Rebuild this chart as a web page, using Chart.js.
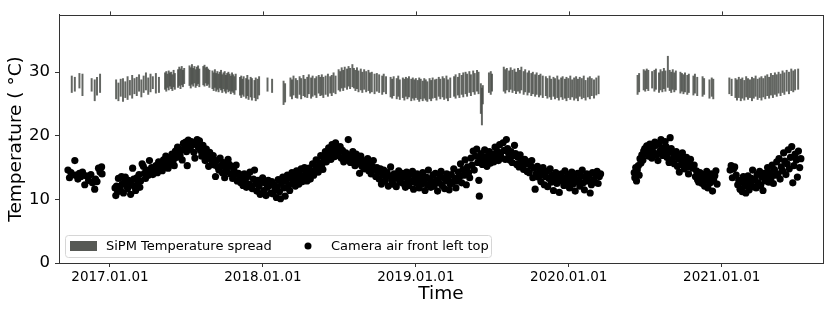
<!DOCTYPE html>
<html>
<head>
<meta charset="utf-8">
<script src="https://cdn.jsdelivr.net/npm/chart.js@4/dist/chart.umd.min.js"></script>
<style>
  html, body { margin: 0; padding: 0; background: #fff; }
  #wrap { width: 830px; height: 311px; }
</style>
</head>
<body>
<div id="wrap"><canvas id="grafico"></canvas></div>
<script>
// x values are decimal years, y values in degrees C
const yearTicks = [2017, 2018, 2019, 2020, 2021];
const yearLabels = ['2017.01.01', '2018.01.01', '2019.01.01', '2020.01.01', '2021.01.01'];
const tempTicks = [0, 10, 20, 30];

// SiPM temperature spread: [time, min, max]
const spread = [
  [2016.75, 26.8, 29.4], [2016.77, 27.0, 29.2], [2016.80, 27.5, 29.8], [2016.82, 26.3, 29.7],
  [2016.88, 27.0, 29.0], [2016.90, 25.5, 28.8], [2016.915, 26.4, 29.2], [2016.935, 26.8, 29.7],
  [2017.04, 25.8, 28.8], [2017.055, 25.5, 28.3], [2017.07, 26.2, 28.9], [2017.085, 25.4, 29.0],
  [2017.10, 26.0, 28.5], [2017.115, 25.7, 29.3], [2017.13, 26.4, 28.7], [2017.145, 25.9, 29.5],
  [2017.16, 26.6, 29.0], [2017.175, 26.3, 29.2], [2017.19, 27.0, 29.6], [2017.205, 26.1, 28.8],
  [2017.22, 26.8, 29.4], [2017.235, 27.2, 29.9], [2017.25, 26.5, 29.1], [2017.265, 26.9, 29.7],
  [2017.28, 27.4, 29.3], [2017.30, 26.7, 29.8], [2017.32, 26.8, 29.2],
  [2017.36, 27.3, 29.9], [2017.368, 27.0, 30.1], [2017.376, 27.6, 29.7], [2017.384, 27.2, 30.2],
  [2017.392, 27.8, 29.9], [2017.40, 27.4, 30.0], [2017.408, 27.1, 29.6], [2017.416, 27.7, 30.3],
  [2017.424, 27.3, 29.8],
  [2017.445, 27.6, 30.4], [2017.453, 27.9, 30.8], [2017.461, 27.4, 30.5], [2017.469, 28.0, 30.9],
  [2017.477, 27.7, 30.3], [2017.485, 28.2, 30.6],
  [2017.52, 27.9, 31.0], [2017.528, 27.5, 30.7], [2017.536, 28.1, 31.2], [2017.544, 27.8, 30.6],
  [2017.552, 28.3, 30.9], [2017.56, 27.6, 30.4], [2017.568, 27.9, 30.8], [2017.576, 28.2, 31.0],
  [2017.584, 27.7, 30.5],
  [2017.61, 28.0, 30.9], [2017.618, 27.8, 31.1], [2017.626, 28.3, 30.7], [2017.634, 27.9, 30.8],
  [2017.642, 28.1, 30.5], [2017.65, 27.6, 30.3],
  [2017.67, 27.4, 30.2], [2017.678, 27.1, 29.9], [2017.686, 27.6, 30.4], [2017.694, 27.0, 29.8],
  [2017.702, 27.3, 30.1], [2017.71, 26.9, 29.7], [2017.718, 27.5, 30.0], [2017.726, 27.2, 30.3],
  [2017.734, 26.8, 29.6], [2017.742, 27.4, 29.9], [2017.75, 27.0, 30.1], [2017.758, 26.7, 29.5],
  [2017.766, 27.3, 29.8], [2017.774, 26.9, 30.0], [2017.782, 27.1, 29.7], [2017.79, 26.6, 29.4],
  [2017.798, 27.0, 29.9], [2017.806, 26.8, 29.6], [2017.814, 26.5, 29.3], [2017.822, 27.2, 29.7],
  [2017.85, 26.4, 29.2], [2017.858, 26.0, 29.4], [2017.866, 26.5, 28.9], [2017.874, 26.2, 29.3],
  [2017.89, 25.9, 29.0], [2017.898, 26.3, 29.5], [2017.906, 25.7, 28.8], [2017.92, 26.1, 29.2],
  [2017.928, 25.6, 29.0], [2017.945, 26.0, 28.7], [2017.953, 25.5, 29.1], [2017.965, 25.8, 28.9],
  [2017.975, 26.4, 29.3],
  [2018.03, 27.0, 29.1], [2018.06, 26.8, 28.9], [2018.135, 24.9, 28.6], [2018.145, 25.3, 28.2],
  [2018.18, 26.2, 29.1], [2018.19, 25.8, 28.8], [2018.20, 26.4, 29.4], [2018.215, 26.0, 29.0],
  [2018.225, 25.9, 28.7], [2018.24, 26.5, 29.3], [2018.25, 25.8, 29.0], [2018.265, 26.3, 29.5],
  [2018.275, 26.1, 28.9], [2018.29, 26.0, 29.2], [2018.30, 26.6, 29.6], [2018.315, 25.9, 29.1],
  [2018.325, 26.2, 29.4], [2018.34, 26.4, 29.0], [2018.35, 26.0, 29.3], [2018.365, 26.7, 29.5],
  [2018.375, 26.3, 29.2], [2018.385, 26.4, 29.6], [2018.395, 26.0, 29.2], [2018.41, 26.5, 29.4],
  [2018.425, 26.2, 29.7], [2018.44, 26.7, 29.3], [2018.45, 26.3, 29.5], [2018.462, 26.8, 29.9],
  [2018.475, 26.6, 29.4],
  [2018.495, 27.2, 30.4], [2018.505, 27.0, 30.1], [2018.515, 27.5, 30.7], [2018.525, 27.1, 30.3],
  [2018.535, 27.6, 30.8], [2018.55, 27.3, 30.5], [2018.56, 27.8, 30.9], [2018.57, 27.4, 30.6],
  [2018.585, 27.7, 31.2], [2018.595, 27.5, 30.6], [2018.605, 27.1, 30.3], [2018.615, 27.4, 30.7],
  [2018.625, 26.9, 30.2], [2018.64, 27.2, 30.5], [2018.65, 26.8, 30.0], [2018.662, 27.3, 30.4],
  [2018.675, 26.9, 30.1], [2018.69, 27.1, 30.3], [2018.70, 26.7, 29.9], [2018.712, 26.9, 30.0],
  [2018.73, 26.6, 29.7], [2018.745, 27.0, 29.8], [2018.76, 26.8, 29.6], [2018.78, 26.5, 29.4],
  [2018.79, 26.9, 29.7], [2018.805, 26.6, 29.3],
  [2018.835, 26.1, 29.2], [2018.845, 25.9, 28.9], [2018.855, 26.3, 29.3], [2018.875, 25.8, 29.0],
  [2018.885, 26.2, 29.4], [2018.895, 25.7, 28.8], [2018.915, 26.0, 29.1], [2018.925, 25.6, 28.9],
  [2018.935, 26.2, 29.2], [2018.945, 25.8, 29.0], [2018.955, 26.1, 29.3], [2018.97, 25.5, 28.9],
  [2018.98, 25.9, 29.1], [2018.99, 25.6, 28.8], [2019.0, 26.0, 29.0], [2019.012, 25.7, 28.7],
  [2019.022, 25.4, 29.1], [2019.032, 25.8, 28.9], [2019.045, 25.5, 28.6], [2019.055, 25.9, 29.0],
  [2019.065, 25.6, 28.8], [2019.075, 25.4, 28.5], [2019.09, 25.8, 29.0], [2019.10, 25.5, 28.7],
  [2019.11, 25.9, 29.1], [2019.125, 26.0, 28.8], [2019.135, 25.6, 28.9], [2019.15, 26.2, 29.2],
  [2019.16, 25.8, 28.9], [2019.175, 26.1, 29.3], [2019.185, 25.7, 29.0], [2019.20, 25.9, 29.4],
  [2019.21, 25.5, 28.8], [2019.225, 26.0, 29.1],
  [2019.25, 26.2, 29.3], [2019.26, 25.9, 29.6], [2019.275, 26.4, 29.2], [2019.285, 26.0, 29.8],
  [2019.30, 26.5, 29.5], [2019.31, 26.1, 29.9], [2019.325, 26.6, 30.0], [2019.335, 26.2, 29.7],
  [2019.35, 26.8, 30.1], [2019.36, 26.3, 29.6], [2019.375, 26.9, 30.2], [2019.385, 26.5, 29.8],
  [2019.40, 27.0, 30.3], [2019.41, 26.6, 30.0],
  [2019.425, 23.5, 28.2], [2019.432, 21.7, 27.5], [2019.438, 25.0, 27.9],
  [2019.478, 26.8, 29.9], [2019.49, 26.5, 30.1], [2019.498, 27.0, 29.7],
  [2019.575, 27.0, 30.8], [2019.585, 26.7, 30.4], [2019.595, 27.2, 30.6], [2019.61, 26.9, 30.2],
  [2019.62, 27.3, 30.7], [2019.632, 26.8, 30.3], [2019.645, 27.1, 30.5], [2019.655, 26.6, 30.0],
  [2019.668, 27.0, 30.6], [2019.68, 26.7, 30.3], [2019.69, 27.2, 30.8], [2019.705, 26.5, 30.1],
  [2019.715, 26.9, 30.4], [2019.73, 26.4, 29.9], [2019.74, 26.8, 30.2], [2019.755, 26.3, 29.8],
  [2019.765, 26.6, 30.0], [2019.78, 26.2, 29.6], [2019.79, 26.5, 29.9], [2019.805, 26.1, 29.5],
  [2019.815, 26.4, 29.7], [2019.83, 26.0, 29.4],
  [2019.85, 26.3, 29.3], [2019.86, 25.9, 29.0], [2019.875, 26.1, 29.4], [2019.885, 25.7, 28.9],
  [2019.90, 26.2, 29.2], [2019.91, 25.8, 29.0], [2019.925, 26.0, 29.4], [2019.935, 25.6, 28.8],
  [2019.95, 26.1, 29.1], [2019.96, 25.7, 29.3], [2019.975, 25.9, 28.9], [2019.985, 25.5, 29.2],
  [2019.997, 26.0, 29.0], [2020.01, 25.7, 29.4], [2020.022, 26.1, 28.8], [2020.035, 25.6, 29.1],
  [2020.048, 25.9, 29.3], [2020.06, 25.5, 28.9], [2020.072, 26.2, 29.2], [2020.085, 25.8, 29.0],
  [2020.098, 26.0, 29.4], [2020.11, 25.6, 28.7], [2020.125, 26.1, 29.1], [2020.138, 25.8, 29.3],
  [2020.15, 26.3, 29.0], [2020.165, 25.9, 28.8], [2020.18, 26.4, 29.1], [2020.195, 26.6, 29.4],
  [2020.45, 26.5, 29.5], [2020.46, 26.9, 29.8], [2020.49, 27.2, 30.4], [2020.50, 27.0, 30.2],
  [2020.51, 27.4, 30.5], [2020.52, 27.1, 30.3], [2020.545, 27.5, 30.1], [2020.56, 27.0, 30.3],
  [2020.57, 27.3, 30.5], [2020.59, 26.8, 29.9], [2020.60, 27.2, 30.4], [2020.612, 26.9, 30.1],
  [2020.622, 27.4, 30.6], [2020.632, 27.0, 30.2], [2020.648, 27.6, 32.5], [2020.66, 27.1, 30.3],
  [2020.67, 26.8, 30.0], [2020.68, 27.3, 30.4], [2020.69, 26.9, 29.9], [2020.70, 27.2, 30.2],
  [2020.73, 26.7, 30.0], [2020.74, 27.0, 29.8], [2020.75, 26.6, 29.6], [2020.76, 26.9, 29.9],
  [2020.775, 26.5, 29.5], [2020.785, 26.8, 29.7], [2020.815, 26.4, 29.4], [2020.825, 26.7, 29.7],
  [2020.84, 26.3, 29.2], [2020.875, 26.2, 29.3], [2020.885, 26.5, 29.0], [2020.92, 25.9, 28.8],
  [2020.935, 26.2, 29.1], [2020.945, 25.8, 28.9],
  [2021.05, 26.6, 29.1], [2021.065, 26.3, 28.9], [2021.09, 26.0, 29.0], [2021.10, 25.6, 28.8],
  [2021.112, 26.0, 29.2], [2021.125, 25.5, 28.9], [2021.135, 25.9, 29.1], [2021.148, 25.6, 28.7],
  [2021.16, 26.1, 29.3], [2021.172, 25.7, 29.0], [2021.185, 26.0, 28.8], [2021.198, 25.5, 29.2],
  [2021.21, 25.9, 29.0], [2021.222, 26.2, 29.4], [2021.235, 25.7, 28.9], [2021.248, 26.0, 29.1],
  [2021.26, 25.6, 29.3], [2021.272, 26.1, 29.0], [2021.285, 25.8, 29.4], [2021.298, 26.3, 29.6],
  [2021.31, 25.9, 29.2], [2021.322, 26.4, 29.8], [2021.335, 26.0, 29.5], [2021.348, 26.5, 29.9],
  [2021.36, 26.2, 29.6], [2021.372, 26.7, 30.0], [2021.385, 26.3, 29.7], [2021.398, 26.8, 30.2],
  [2021.41, 26.5, 29.9], [2021.425, 27.0, 30.3], [2021.44, 26.6, 30.0], [2021.455, 27.1, 30.5],
  [2021.468, 26.9, 30.2], [2021.48, 27.2, 30.4], [2021.50, 27.3, 30.5]
];

// Camera air front left top: [time, temperature]
const airFrontLeftTop = [
  [2016.725, 14.6], [2016.735, 13.4], [2016.745, 14.2], [2016.77, 16.1], [2016.775, 13.8],
  [2016.79, 13.2], [2016.80, 14.1], [2016.81, 13.6], [2016.82, 14.3], [2016.835, 12.3],
  [2016.845, 13.7], [2016.86, 13.0], [2016.875, 13.9], [2016.885, 12.6], [2016.90, 11.6],
  [2016.905, 13.2], [2016.915, 12.8], [2016.925, 14.9], [2016.935, 14.3], [2016.945, 15.1],
  [2016.948, 14.0],
  [2017.033, 11.8], [2017.038, 10.6], [2017.043, 12.1], [2017.05, 11.2], [2017.055, 13.3],
  [2017.062, 12.0], [2017.068, 11.5], [2017.075, 13.6], [2017.08, 12.4], [2017.088, 11.0],
  [2017.095, 12.8], [2017.10, 13.5], [2017.108, 12.2], [2017.115, 11.7], [2017.12, 13.0],
  [2017.128, 12.6], [2017.135, 10.8], [2017.14, 12.3], [2017.148, 14.9], [2017.155, 13.2],
  [2017.16, 12.0], [2017.168, 11.4], [2017.175, 13.4], [2017.182, 12.7], [2017.19, 13.9],
  [2017.195, 11.9], [2017.20, 12.9], [2017.21, 15.6], [2017.218, 15.2], [2017.225, 14.1],
  [2017.232, 13.3], [2017.24, 14.6], [2017.25, 13.8], [2017.258, 16.1], [2017.265, 14.4],
  [2017.272, 15.0], [2017.28, 13.9], [2017.29, 14.8], [2017.30, 15.3], [2017.31, 14.2],
  [2017.318, 15.9], [2017.325, 14.7], [2017.335, 15.4], [2017.342, 14.5], [2017.35, 16.2],
  [2017.358, 15.1], [2017.365, 16.8], [2017.372, 15.6], [2017.38, 14.9], [2017.39, 16.4],
  [2017.398, 15.8], [2017.405, 17.1], [2017.412, 16.0], [2017.42, 15.3], [2017.428, 17.6],
  [2017.435, 16.6], [2017.442, 18.2], [2017.45, 17.3], [2017.458, 16.9], [2017.465, 17.8],
  [2017.472, 16.2], [2017.48, 18.8], [2017.488, 18.1], [2017.495, 19.0], [2017.50, 17.5],
  [2017.505, 15.3], [2017.512, 19.3], [2017.518, 18.4], [2017.525, 17.9], [2017.532, 19.1],
  [2017.54, 18.6], [2017.548, 17.4], [2017.555, 16.5], [2017.562, 18.9], [2017.57, 19.4],
  [2017.578, 18.2], [2017.585, 19.2], [2017.592, 17.7], [2017.60, 16.8], [2017.608, 18.5],
  [2017.615, 17.2], [2017.622, 16.1], [2017.63, 17.9], [2017.638, 16.6], [2017.645, 15.2],
  [2017.652, 17.4], [2017.66, 16.3], [2017.668, 15.7], [2017.675, 16.9], [2017.682, 15.4],
  [2017.69, 13.6], [2017.698, 16.1], [2017.705, 15.1], [2017.712, 14.6], [2017.72, 16.5],
  [2017.728, 15.3], [2017.735, 14.2], [2017.742, 15.8], [2017.75, 13.4], [2017.758, 15.0],
  [2017.765, 14.4], [2017.772, 16.3], [2017.78, 15.5], [2017.788, 14.0], [2017.795, 15.2],
  [2017.802, 13.3], [2017.81, 14.7], [2017.818, 13.9], [2017.825, 15.4], [2017.832, 12.9],
  [2017.84, 14.1], [2017.848, 13.5], [2017.855, 12.6], [2017.862, 13.8], [2017.87, 12.2],
  [2017.878, 14.0], [2017.885, 13.1], [2017.892, 11.9], [2017.90, 13.6], [2017.908, 12.4],
  [2017.915, 14.3], [2017.922, 12.0], [2017.93, 11.7], [2017.938, 13.2], [2017.945, 14.6],
  [2017.952, 12.5], [2017.96, 11.3], [2017.968, 13.0], [2017.975, 12.1], [2017.982, 10.8],
  [2017.99, 12.7], [2017.998, 13.4], [2018.005, 11.4], [2018.012, 12.6], [2018.02, 10.6],
  [2018.028, 11.9], [2018.035, 13.0], [2018.042, 12.2], [2018.05, 11.0], [2018.058, 12.8],
  [2018.065, 10.9], [2018.072, 12.3], [2018.08, 11.5], [2018.088, 10.3], [2018.095, 12.0],
  [2018.10, 13.1], [2018.108, 11.2], [2018.115, 10.1], [2018.122, 12.6], [2018.13, 13.5],
  [2018.138, 11.8], [2018.145, 10.5], [2018.152, 12.9], [2018.16, 13.8], [2018.168, 12.2],
  [2018.175, 11.4], [2018.182, 13.3], [2018.19, 14.2], [2018.198, 12.7], [2018.205, 13.6],
  [2018.212, 12.1], [2018.22, 14.5], [2018.228, 13.0], [2018.235, 12.4], [2018.242, 13.9],
  [2018.25, 14.8], [2018.258, 12.8], [2018.265, 13.4], [2018.272, 15.0], [2018.28, 14.1],
  [2018.288, 12.9], [2018.295, 13.7], [2018.302, 14.9], [2018.31, 13.2], [2018.318, 14.4],
  [2018.325, 15.6], [2018.332, 13.8], [2018.34, 14.6], [2018.348, 16.2], [2018.355, 15.1],
  [2018.362, 14.3], [2018.37, 15.8], [2018.378, 16.9], [2018.385, 15.4], [2018.392, 14.7],
  [2018.40, 16.4], [2018.408, 17.5], [2018.415, 15.9], [2018.422, 16.8], [2018.43, 18.1],
  [2018.438, 17.2], [2018.445, 16.3], [2018.452, 18.6], [2018.46, 17.6], [2018.468, 16.7],
  [2018.475, 18.9], [2018.482, 17.9], [2018.49, 16.9], [2018.498, 17.4], [2018.505, 18.3],
  [2018.512, 16.5], [2018.52, 17.7], [2018.528, 15.9], [2018.535, 16.8], [2018.542, 17.3],
  [2018.55, 16.2], [2018.558, 19.4], [2018.565, 17.0], [2018.572, 15.8], [2018.58, 16.6],
  [2018.588, 17.5], [2018.595, 16.0], [2018.602, 15.3], [2018.61, 17.1], [2018.618, 16.4],
  [2018.625, 15.6], [2018.632, 14.1], [2018.64, 16.8], [2018.648, 15.2], [2018.655, 16.1],
  [2018.662, 14.8], [2018.67, 15.9], [2018.678, 15.0], [2018.685, 16.4], [2018.692, 14.5],
  [2018.70, 15.5], [2018.708, 14.0], [2018.715, 15.2], [2018.722, 16.1], [2018.73, 14.7],
  [2018.738, 13.6], [2018.745, 15.0], [2018.752, 14.3], [2018.76, 13.2], [2018.768, 14.8],
  [2018.775, 12.4], [2018.782, 13.9], [2018.79, 14.6], [2018.798, 12.9], [2018.805, 13.5],
  [2018.812, 14.2], [2018.82, 12.1], [2018.828, 13.7], [2018.835, 15.1], [2018.842, 13.0],
  [2018.85, 12.4], [2018.858, 14.0], [2018.865, 13.3], [2018.872, 12.0], [2018.88, 13.8],
  [2018.888, 14.5], [2018.895, 12.7], [2018.902, 13.4], [2018.91, 14.1], [2018.918, 12.5],
  [2018.925, 13.6], [2018.932, 11.9], [2018.94, 14.3], [2018.948, 13.0], [2018.955, 12.2],
  [2018.962, 13.9], [2018.97, 12.8], [2018.978, 14.4], [2018.985, 11.6], [2018.992, 13.3],
  [2019.0, 12.6], [2019.008, 14.0], [2019.015, 13.1], [2019.022, 11.8], [2019.03, 13.7],
  [2019.038, 12.4], [2019.045, 14.2], [2019.052, 12.9], [2019.06, 11.4], [2019.068, 13.5],
  [2019.075, 12.3], [2019.082, 14.6], [2019.09, 13.2], [2019.098, 11.9], [2019.105, 12.8],
  [2019.112, 13.8], [2019.12, 12.1], [2019.128, 14.1], [2019.135, 13.0], [2019.142, 11.3],
  [2019.15, 12.6], [2019.158, 13.6], [2019.165, 14.4], [2019.172, 12.2], [2019.18, 13.4],
  [2019.188, 11.7], [2019.195, 12.9], [2019.202, 14.0], [2019.21, 13.1], [2019.218, 11.5],
  [2019.225, 12.4], [2019.232, 13.9], [2019.24, 12.7], [2019.248, 14.8], [2019.255, 13.3],
  [2019.262, 11.8], [2019.27, 12.9], [2019.278, 14.3], [2019.285, 13.5], [2019.292, 15.6],
  [2019.30, 12.6], [2019.308, 14.7], [2019.315, 13.8], [2019.322, 16.2], [2019.33, 12.3],
  [2019.338, 15.1], [2019.345, 14.2], [2019.352, 13.4], [2019.36, 16.5], [2019.368, 15.4],
  [2019.375, 17.6], [2019.382, 14.6], [2019.39, 16.8], [2019.398, 17.9], [2019.405, 15.8],
  [2019.412, 13.0], [2019.415, 10.5], [2019.42, 16.3], [2019.428, 17.2], [2019.435, 15.5],
  [2019.442, 16.6], [2019.45, 17.8], [2019.458, 16.0], [2019.465, 15.2], [2019.472, 16.9],
  [2019.48, 17.5], [2019.488, 15.7], [2019.495, 16.4], [2019.502, 17.1], [2019.51, 15.9],
  [2019.518, 18.2], [2019.525, 16.7], [2019.532, 17.6], [2019.54, 16.1], [2019.548, 18.6],
  [2019.555, 17.3], [2019.562, 16.5], [2019.57, 18.9], [2019.578, 17.7], [2019.585, 16.3],
  [2019.592, 19.4], [2019.60, 18.0], [2019.608, 17.1], [2019.615, 16.2], [2019.622, 17.5],
  [2019.63, 15.8], [2019.638, 16.9], [2019.645, 18.5], [2019.652, 17.2], [2019.66, 15.5],
  [2019.668, 16.6], [2019.675, 15.1], [2019.682, 17.0], [2019.69, 16.2], [2019.698, 15.4],
  [2019.705, 14.7], [2019.712, 16.3], [2019.72, 15.6], [2019.728, 14.4], [2019.735, 15.9],
  [2019.742, 14.2], [2019.75, 15.3], [2019.758, 16.1], [2019.765, 13.4], [2019.772, 14.9],
  [2019.78, 11.6], [2019.788, 14.0], [2019.795, 15.2], [2019.802, 13.5], [2019.81, 14.6],
  [2019.818, 12.8], [2019.825, 13.9], [2019.832, 15.0], [2019.84, 12.3], [2019.848, 13.6],
  [2019.855, 14.4], [2019.862, 12.0], [2019.87, 13.3], [2019.878, 14.8], [2019.885, 12.7],
  [2019.892, 13.8], [2019.90, 11.4], [2019.908, 13.1], [2019.915, 14.2], [2019.922, 12.5],
  [2019.93, 13.7], [2019.938, 11.1], [2019.945, 12.9], [2019.952, 14.0], [2019.96, 13.2],
  [2019.968, 12.2], [2019.975, 14.5], [2019.982, 13.4], [2019.99, 12.6], [2019.998, 13.9],
  [2020.005, 11.8], [2020.012, 13.1], [2020.02, 14.3], [2020.028, 12.4], [2020.035, 13.6],
  [2020.042, 11.3], [2020.05, 12.8], [2020.058, 14.1], [2020.065, 13.0], [2020.072, 12.1],
  [2020.08, 13.7], [2020.088, 14.6], [2020.095, 12.6], [2020.102, 11.5], [2020.11, 13.4],
  [2020.118, 14.0], [2020.125, 12.9], [2020.132, 13.8], [2020.14, 11.0], [2020.148, 12.3],
  [2020.155, 14.2], [2020.162, 13.1], [2020.17, 12.7], [2020.178, 13.9], [2020.185, 14.4],
  [2020.192, 12.5], [2020.20, 13.6], [2020.208, 14.0],
  [2020.428, 14.2], [2020.432, 13.4], [2020.438, 15.0], [2020.443, 12.9], [2020.448, 14.6],
  [2020.455, 15.3], [2020.46, 13.8], [2020.466, 16.4], [2020.472, 15.7], [2020.478, 17.0],
  [2020.485, 16.2], [2020.49, 17.6], [2020.497, 18.0], [2020.503, 17.1], [2020.51, 18.4],
  [2020.516, 17.5], [2020.523, 16.8], [2020.53, 18.7], [2020.537, 17.9], [2020.543, 16.5],
  [2020.55, 18.2], [2020.556, 17.3], [2020.563, 19.0], [2020.57, 18.5], [2020.576, 17.0],
  [2020.583, 16.1], [2020.59, 18.8], [2020.596, 17.6], [2020.603, 19.4], [2020.61, 18.1],
  [2020.616, 16.9], [2020.623, 17.8], [2020.63, 19.1], [2020.636, 18.3], [2020.643, 16.6],
  [2020.65, 17.4], [2020.656, 15.8], [2020.663, 19.7], [2020.67, 18.0], [2020.676, 16.3],
  [2020.683, 17.2], [2020.69, 15.6], [2020.696, 16.7], [2020.703, 17.5], [2020.71, 15.2],
  [2020.716, 16.4], [2020.723, 14.3], [2020.73, 16.9], [2020.736, 15.5], [2020.743, 17.3],
  [2020.75, 16.0], [2020.756, 14.8], [2020.763, 15.9], [2020.77, 16.6], [2020.776, 15.1],
  [2020.783, 14.0], [2020.79, 15.7], [2020.796, 16.3], [2020.81, 14.9], [2020.82, 15.4],
  [2020.828, 13.6], [2020.835, 14.5], [2020.842, 13.1], [2020.85, 12.7], [2020.858, 14.2],
  [2020.865, 13.3], [2020.872, 12.5], [2020.88, 13.9], [2020.888, 12.1], [2020.895, 13.0],
  [2020.902, 14.4], [2020.91, 11.8], [2020.918, 13.5], [2020.925, 12.6], [2020.932, 14.0],
  [2020.94, 11.3], [2020.948, 12.9], [2020.955, 13.7], [2020.962, 14.5], [2020.97, 12.4],
  [2021.055, 14.6], [2021.062, 15.3], [2021.07, 13.4], [2021.078, 14.8], [2021.085, 15.1],
  [2021.095, 13.8], [2021.105, 12.3], [2021.112, 13.0], [2021.12, 11.6], [2021.128, 12.7],
  [2021.135, 11.2], [2021.142, 13.6], [2021.15, 12.1], [2021.158, 11.0], [2021.165, 12.9],
  [2021.172, 13.7], [2021.18, 11.5], [2021.188, 12.4], [2021.195, 13.3], [2021.202, 14.6],
  [2021.21, 12.0], [2021.218, 13.1], [2021.225, 11.8], [2021.232, 13.9], [2021.24, 12.6],
  [2021.248, 14.4], [2021.255, 12.2], [2021.262, 13.5], [2021.27, 11.4], [2021.278, 14.1],
  [2021.285, 12.9], [2021.292, 13.6], [2021.30, 15.0], [2021.308, 12.7], [2021.315, 14.2],
  [2021.322, 13.3], [2021.33, 15.4], [2021.338, 12.5], [2021.345, 14.7], [2021.352, 13.8],
  [2021.36, 15.9], [2021.368, 14.0], [2021.375, 16.4], [2021.382, 13.2], [2021.39, 15.1],
  [2021.398, 14.5], [2021.405, 17.3], [2021.412, 16.0], [2021.42, 13.9], [2021.428, 15.6],
  [2021.435, 17.8], [2021.442, 14.8], [2021.45, 16.6], [2021.458, 18.3], [2021.465, 12.6],
  [2021.472, 15.3], [2021.48, 17.1], [2021.488, 16.2], [2021.495, 13.5], [2021.502, 17.6],
  [2021.51, 15.0], [2021.518, 16.4]
];

const FONT = 'DejaVu Sans';
const SPREAD_COLOR = 'rgba(72,75,70,0.85)';

// frame, top ticks and the legend inside the plot
const molduraPlugin = {
  id: 'moldura',
  afterDraw(chart) {
    const { ctx, chartArea: a, scales } = chart;
    ctx.save();
    ctx.strokeStyle = '#333';
    ctx.lineWidth = 1;
    ctx.strokeRect(Math.round(a.left) + 0.5, Math.round(a.top) + 0.5,
      Math.round(a.right - a.left), Math.round(a.bottom - a.top));
    scales.x.ticks.forEach(t => {
      const px = Math.round(scales.x.getPixelForValue(t.value)) + 0.5;
      ctx.beginPath();
      ctx.moveTo(px, a.top);
      ctx.lineTo(px, a.top - 3.5);
      ctx.stroke();
    });

    // legend
    const lx = 65, ly = 235, lw = 426, lh = 22;
    ctx.beginPath();
    ctx.roundRect(lx + 0.5, ly + 0.5, lw, lh, 3);
    ctx.fillStyle = 'rgba(255,255,255,0.8)';
    ctx.fill();
    ctx.strokeStyle = '#d6d6d6';
    ctx.stroke();
    ctx.fillStyle = '#575955';
    ctx.fillRect(70, 241, 27, 10);
    ctx.fillStyle = '#000';
    ctx.beginPath();
    ctx.arc(308, 246, 3.5, 0, Math.PI * 2);
    ctx.fill();
    ctx.font = '13px "' + FONT + '"';
    ctx.textBaseline = 'middle';
    ctx.fillText(chart.data.datasets[0].label, 106, 246.5);
    ctx.fillText(chart.data.datasets[1].label, 331, 246.5);
    ctx.restore();
  }
};

function criarGrafico() {
  const ctx = document.getElementById('grafico').getContext('2d');
  new Chart(ctx, {
    type: 'bar',
    data: {
      datasets: [{
        type: 'bar',
        label: 'SiPM Temperature spread',
        data: spread.map(s => ({ x: s[0], y: [s[1], s[2]] })),
        backgroundColor: SPREAD_COLOR,
        borderWidth: 0,
        barThickness: 1.3,
        order: 2
      }, {
        type: 'scatter',
        label: 'Camera air front left top',
        data: airFrontLeftTop.map(p => ({ x: p[0], y: p[1] })),
        backgroundColor: '#000',
        borderColor: '#000',
        pointRadius: 3.6,
        pointBorderWidth: 0,
        order: 1
      }]
    },
    options: {
      responsive: true,
      maintainAspectRatio: false,
      animation: false,
      layout: { padding: { left: 0, right: 7, top: 10, bottom: 0 } },
      plugins: {
        legend: { display: false },
        tooltip: { enabled: false }
      },
      scales: {
        x: {
          type: 'linear',
          min: 2016.6665,
          max: 2021.6625,
          offset: false,
          afterBuildTicks: s => { s.ticks = yearTicks.map(v => ({ value: v })); },
          afterFit: s => { s.height = 48; },
          grid: { offset: false, drawOnChartArea: false, drawTicks: true, tickLength: 4, color: '#333' },
          border: { display: true, color: '#333' },
          ticks: {
            color: '#000',
            padding: 2,
            maxRotation: 0,
            font: { family: FONT, size: 13.5 },
            callback: v => yearLabels[yearTicks.indexOf(v)]
          },
          title: {
            display: true,
            text: 'Time',
            color: '#000',
            padding: { top: 0, bottom: 6 },
            font: { family: FONT, size: 18.5 }
          }
        },
        y: {
          min: 0,
          max: 39,
          afterBuildTicks: s => { s.ticks = tempTicks.map(v => ({ value: v })); },
          afterFit: s => { s.width = 59; },
          grid: { drawOnChartArea: false, drawTicks: true, tickLength: 4, color: '#333' },
          border: { display: true, color: '#333' },
          ticks: {
            color: '#000',
            padding: 5,
            font: { family: FONT, size: 16.5 }
          },
          title: {
            display: true,
            text: 'Temperature ( \u00B0C)',
            color: '#000',
            padding: { top: 5, bottom: 0 },
            font: { family: FONT, size: 18.5 }
          }
        }
      }
    },
    plugins: [molduraPlugin]
  });
}

document.addEventListener('DOMContentLoaded', criarGrafico);
</script>
</body>
</html>
